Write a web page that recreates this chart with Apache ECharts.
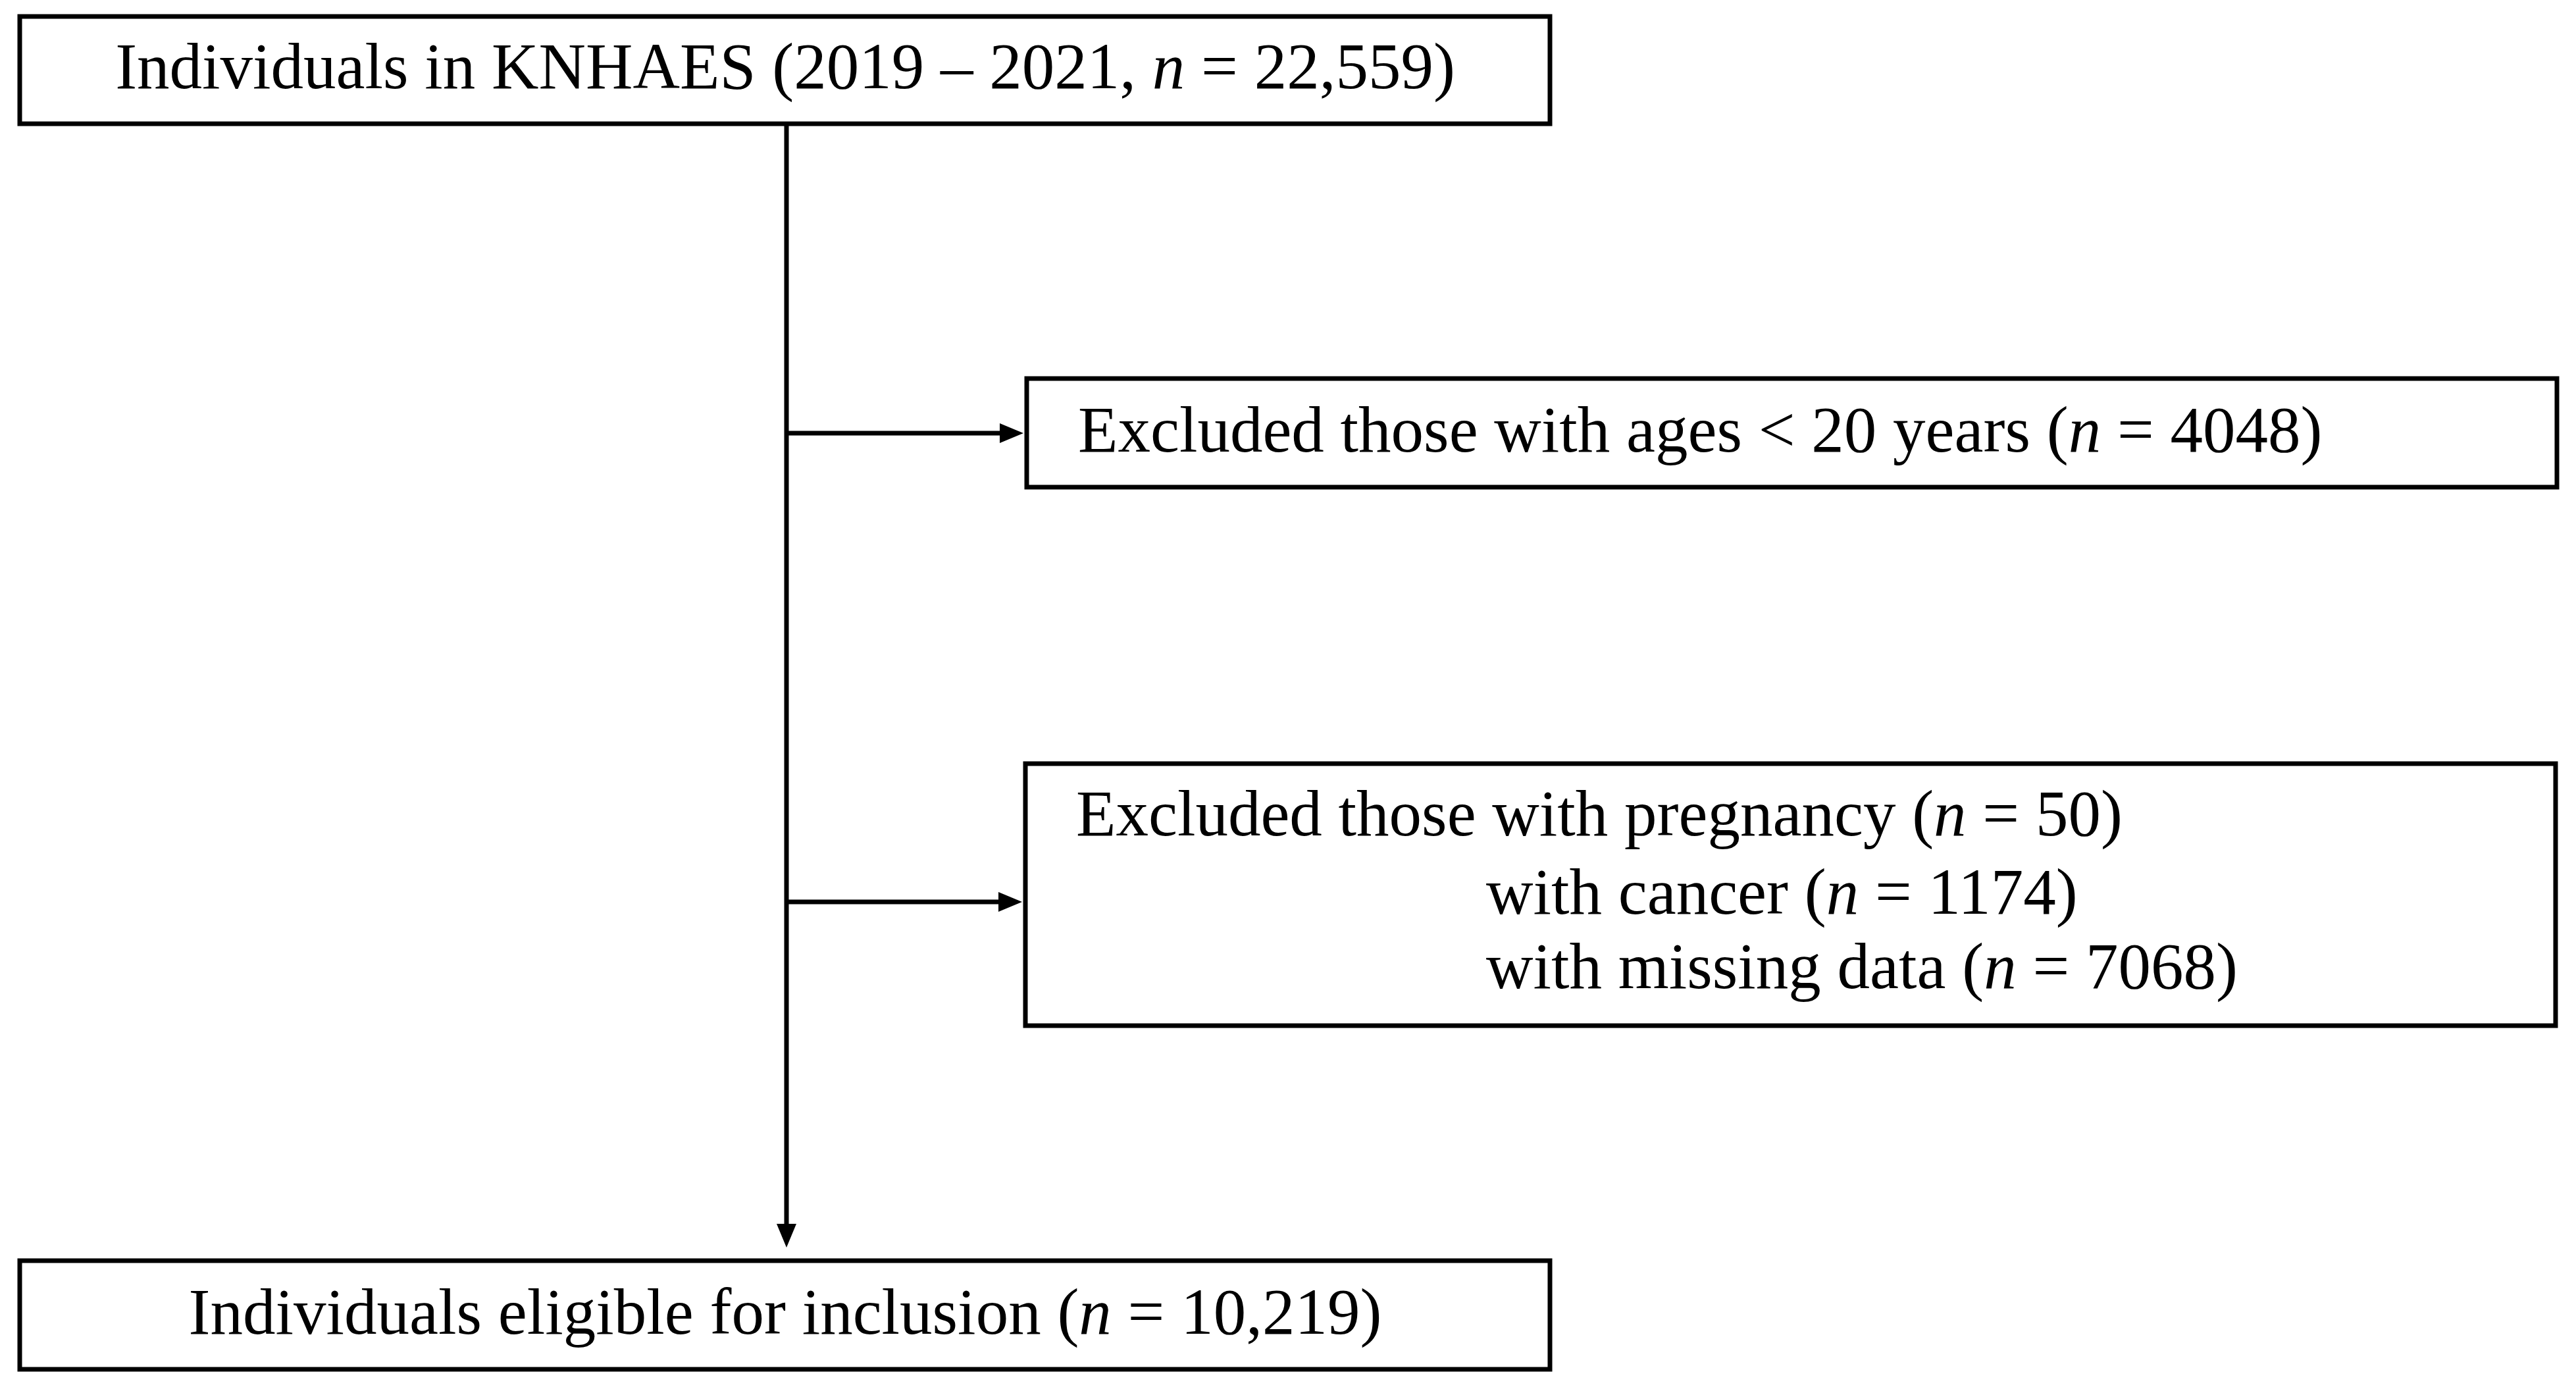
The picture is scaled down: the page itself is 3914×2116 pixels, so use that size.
<!DOCTYPE html>
<html>
<head>
<meta charset="utf-8">
<script src="https://cdn.jsdelivr.net/npm/echarts@6/dist/echarts.min.js"></script>
<style>html,body{margin:0;padding:0;background:#fff}#chart{width:3914px;height:2116px}</style>
</head>
<body>
<div id="chart"></div>
<script>
// 流程图：框与文字
let boxTexts = [
    ['Individuals in KNHAES (2019 – 2021, {i|n} = 22,559)'],
    ['Excluded those with ages < 20 years ({i|n} = 4048)'],
    ['Excluded those with pregnancy ({i|n} = 50)', 'with cancer ({i|n} = 1174)', 'with missing data ({i|n} = 7068)'],
    ['Individuals eligible for inclusion ({i|n} = 10,219)']
];
// 框位置 [x0, y0, x1, y1]
let boxRects = [
    [30, 25, 2355, 188],
    [1560, 575, 3885, 740],
    [1558, 1160, 3883, 1558],
    [30, 1915, 2355, 2080]
];
// 文字位置 [x, y, 对齐]
let textPos = [
    [[1193, 108, 'center']],
    [[1638, 660, 'left']],
    [[1635, 1243, 'left'], [2258, 1362, 'left'], [2258, 1475, 'left']],
    [[1193, 2000, 'center']]
];
// 箭头 [x0, y0, x1, y1]
let arrows = [
    [1195, 188, 1195, 1895],
    [1195, 658, 1555, 658],
    [1195, 1370, 1553, 1370]
];

let font = '"Liberation Serif", "DejaVu Serif", serif';
let fontSize = 99;
let chart = echarts.init(document.getElementById('chart'));

let option = {
    animation: false,
    backgroundColor: '#fff',
    grid: {left: 0, right: 0, top: 0, bottom: 0},
    xAxis: {type: 'value', min: 0, max: 3914, show: false},
    yAxis: {type: 'value', min: 0, max: 2116, inverse: true, show: false},
    series: [{
        type: 'custom',
        data: boxRects.map((r, i) => [r[0], r[1], r[2], r[3], i]),
        renderItem: function (params, api) {
            let i = api.value(4);
            let p0 = api.coord([api.value(0), api.value(1)]);
            let p1 = api.coord([api.value(2), api.value(3)]);
            let children = [{
                type: 'rect',
                shape: {x: p0[0], y: p0[1], width: p1[0] - p0[0], height: p1[1] - p0[1]},
                style: {fill: '#fff', stroke: '#000', lineWidth: 7}
            }];
            boxTexts[i].forEach(function (t, j) {
                let tp = textPos[i][j];
                let c = api.coord([tp[0], tp[1]]);
                children.push({
                    type: 'text',
                    x: c[0], y: c[1],
                    style: {
                        text: t, fill: '#000', font: fontSize + 'px ' + font,
                        align: tp[2], verticalAlign: 'middle',
                        rich: {i: {fontStyle: 'italic', fontSize: fontSize, fontFamily: font}}
                    }
                });
            });
            return {type: 'group', children: children};
        }
    }, {
        type: 'custom',
        data: arrows,
        renderItem: function (params, api) {
            let a = api.coord([api.value(0), api.value(1)]);
            let b = api.coord([api.value(2), api.value(3)]);
            let dx = b[0] - a[0], dy = b[1] - a[1];
            let len = Math.sqrt(dx * dx + dy * dy);
            let ux = dx / len, uy = dy / len;
            let h = 36, w = 15;
            let base = [b[0] - ux * h, b[1] - uy * h];
            return {type: 'group', children: [{
                type: 'line',
                shape: {x1: a[0], y1: a[1], x2: base[0], y2: base[1]},
                style: {stroke: '#000', lineWidth: 7}
            }, {
                type: 'polygon',
                shape: {points: [b, [base[0] - uy * w, base[1] + ux * w], [base[0] + uy * w, base[1] - ux * w]]},
                style: {fill: '#000'}
            }]};
        }
    }]
};
chart.setOption(option);
</script>
</body>
</html>
